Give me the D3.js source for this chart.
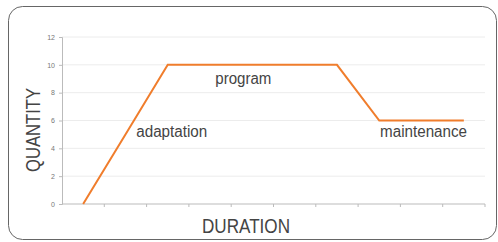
<!DOCTYPE html>
<html>
<head>
<meta charset="utf-8">
<script src="https://cdn.jsdelivr.net/npm/d3@7"></script>
<style>
  body { margin: 0; background: #fff; }
  text { font-family: "Liberation Sans", Arial, sans-serif; }
</style>
</head>
<body>
<div id="chart"></div>
<script>
var svgWidth = 498;
var svgHeight = 242;

// chart data
var periods = ["p1", "p2", "p3", "p4", "p5", "p6", "p7", "p8", "p9", "p10"];
var quantity = [0, 5, 10, 10, 10, 10, 10, 6, 6, 6];
var yTicks = [0, 2, 4, 6, 8, 10, 12];
var phaseNames = ["adaptation", "program", "maintenance"];
var phaseAt = ["p3", "p5", "p9"]; // category each label sits near
var phaseLevel = [4.8, 8.6, 4.8];

var margin = { top: 37, right: 13, bottom: 38, left: 62 };
var width = svgWidth - margin.left - margin.right;
var height = svgHeight - margin.top - margin.bottom;

var svg = d3
  .select("#chart")
  .append("svg")
  .attr("width", svgWidth)
  .attr("height", svgHeight);

// rounded frame
svg
  .append("rect")
  .attr("x", 8.5)
  .attr("y", 6.5)
  .attr("width", 488)
  .attr("height", 233)
  .attr("rx", 14)
  .attr("fill", "none")
  .attr("stroke", "#666")
  .attr("stroke-width", 1);

var chartGroup = svg
  .append("g")
  .attr("transform", `translate(${margin.left}, ${margin.top})`);

var xScale = d3.scaleBand().domain(periods).range([0, width]);
var yScale = d3.scaleLinear().domain([0, 12]).range([height, 0]);

// gridlines
chartGroup
  .append("g")
  .selectAll("line")
  .data(yTicks.slice(1))
  .enter()
  .append("line")
  .attr("x1", 0)
  .attr("x2", width)
  .attr("y1", (d) => yScale(d))
  .attr("y2", (d) => yScale(d))
  .attr("stroke", "#ececec");

// y axis
var leftAxis = d3.axisLeft(yScale).tickValues(yTicks).tickSize(3).tickPadding(4);
var yAxis = chartGroup.append("g").call(leftAxis);
yAxis.select(".domain").attr("stroke", "#bbb");
yAxis.selectAll(".tick line").attr("stroke", "#bbb");
yAxis
  .selectAll(".tick text")
  .attr("fill", "#777")
  .style("font-size", "7px");

// x axis with ticks between categories
var xAxis = chartGroup
  .append("g")
  .attr("transform", `translate(0, ${height})`);
xAxis
  .append("line")
  .attr("x1", 0)
  .attr("x2", width)
  .attr("stroke", "#bbb");
xAxis
  .selectAll("line.tk")
  .data(periods)
  .enter()
  .append("line")
  .attr("class", "tk")
  .attr("x1", (d) => xScale(d) + xScale.bandwidth())
  .attr("x2", (d) => xScale(d) + xScale.bandwidth())
  .attr("y1", 0)
  .attr("y2", 3)
  .attr("stroke", "#bbb");

// line
var line = d3
  .line()
  .x((d, i) => xScale(periods[i]) + xScale.bandwidth() / 2)
  .y((d) => yScale(d));

chartGroup
  .append("path")
  .datum(quantity)
  .attr("d", line)
  .attr("fill", "none")
  .attr("stroke", "#f07d2c")
  .attr("stroke-width", 2);

// phase labels (condensed a bit like the original typeface)
var nudge = [4, -9, 2];
var labelLen = [71, 56, 87];
chartGroup
  .append("g")
  .selectAll("text")
  .data(phaseNames)
  .enter()
  .append("text")
  .text((d) => d)
  .attr("x", (d, i) => xScale(phaseAt[i]) + xScale.bandwidth() / 2 + nudge[i])
  .attr("y", (d, i) => yScale(phaseLevel[i]))
  .attr("textLength", (d, i) => labelLen[i])
  .attr("lengthAdjust", "spacingAndGlyphs")
  .style("text-anchor", "middle")
  .style("font-size", "16px")
  .attr("fill", "#444");

// axis titles
svg
  .append("text")
  .text("DURATION")
  .attr("x", 246)
  .attr("y", 233)
  .attr("textLength", 88)
  .attr("lengthAdjust", "spacingAndGlyphs")
  .style("text-anchor", "middle")
  .style("font-size", "21px")
  .attr("fill", "#444");

svg
  .append("text")
  .text("QUANTITY")
  .attr("textLength", 84)
  .attr("lengthAdjust", "spacingAndGlyphs")
  .style("text-anchor", "middle")
  .style("font-size", "21px")
  .attr("fill", "#444")
  .attr("transform", `translate(40, 130) rotate(-90)`);
</script>
</body>
</html>
